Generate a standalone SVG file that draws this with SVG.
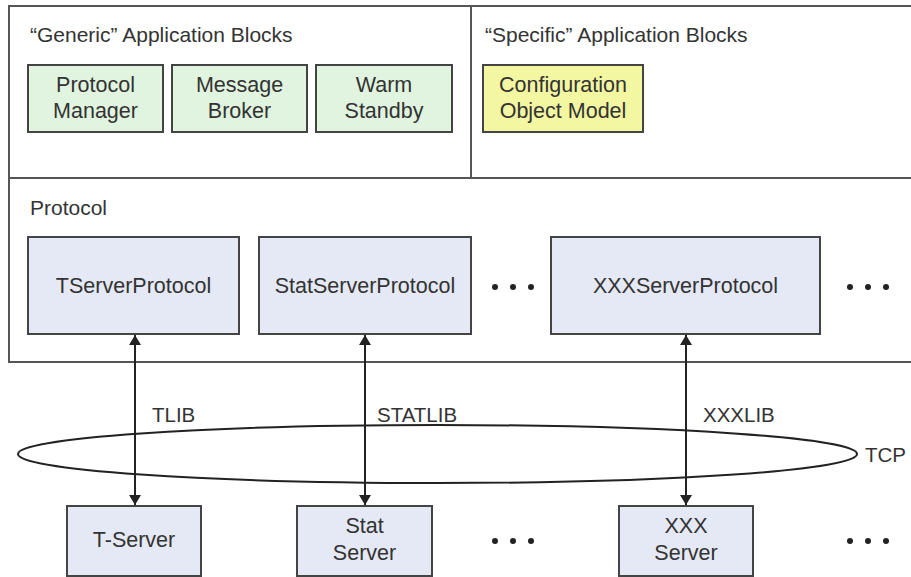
<svg xmlns="http://www.w3.org/2000/svg" width="911" height="577" viewBox="0 0 911 577">
<defs>
<style>
text{font-family:"Liberation Sans",Arial,sans-serif;font-size:21.5px;fill:#333}
.h{font-size:21px}
.lbl{font-size:20.5px}
.c{text-anchor:middle}
.panel{fill:#fff;stroke:#555;stroke-width:2}
.green{fill:#e0f4df;stroke:#444;stroke-width:2}
.yellow{fill:#f4f7a2;stroke:#444;stroke-width:2}
.blue{fill:#e4e9f5;stroke:#444;stroke-width:2}
.conn{stroke:#222;stroke-width:2;fill:none}
.dot{fill:#222}
</style>
<marker id="ah" viewBox="0 0 10 12" refX="10" refY="6" markerWidth="6" markerHeight="6" orient="auto-start-reverse" markerUnits="strokeWidth">
<path d="M0,0 L10,6 L0,12 z" fill="#222"/>
</marker>
</defs>
<rect width="911" height="577" fill="#fff"/>
<g id="generic-panel">
<rect class="panel" x="9" y="6" width="462" height="172"/>
<text class="h" x="30" y="42">“Generic” Application Blocks</text>
</g>
<g id="specific-panel">
<rect class="panel" x="471" y="6" width="450" height="172"/>
<text class="h" x="485" y="42">“Specific” Application Blocks</text>
</g>
<g id="protocol-panel">
<rect class="panel" x="9" y="178" width="912" height="184"/>
<text class="h" x="30" y="215">Protocol</text>
</g>
<g id="protocol-manager">
<rect class="green" x="28" y="65" width="135" height="67"/>
<text class="c" x="95.5" y="92">Protocol</text>
<text class="c" x="95.5" y="118">Manager</text>
</g>
<g id="message-broker">
<rect class="green" x="172" y="65" width="135" height="67"/>
<text class="c" x="239.5" y="92">Message</text>
<text class="c" x="239.5" y="118">Broker</text>
</g>
<g id="warm-standby">
<rect class="green" x="316" y="65" width="136" height="67"/>
<text class="c" x="384" y="92">Warm</text>
<text class="c" x="384" y="118">Standby</text>
</g>
<g id="config-object-model">
<rect class="yellow" x="483" y="65" width="160" height="67"/>
<text class="c" x="563" y="92">Configuration</text>
<text class="c" x="563" y="118">Object Model</text>
</g>
<g id="tserver-protocol">
<rect class="blue" x="28" y="237" width="211" height="97"/>
<text class="c" x="133.5" y="293">TServerProtocol</text>
</g>
<g id="statserver-protocol">
<rect class="blue" x="259" y="237" width="212" height="97"/>
<text class="c" x="365" y="293">StatServerProtocol</text>
</g>
<g id="xxxserver-protocol">
<rect class="blue" x="551" y="237" width="269" height="97"/>
<text class="c" x="685.5" y="293">XXXServerProtocol</text>
</g>
<g id="dots-protocol-1"><circle class="dot" cx="495" cy="287" r="3"/><circle class="dot" cx="513" cy="287" r="3"/><circle class="dot" cx="531" cy="287" r="3"/></g>
<g id="dots-protocol-2"><circle class="dot" cx="850" cy="287" r="3"/><circle class="dot" cx="868" cy="287" r="3"/><circle class="dot" cx="886" cy="287" r="3"/></g>
<g id="tcp">
<ellipse cx="437.5" cy="454" rx="419.5" ry="29" fill="none" stroke="#222" stroke-width="2"/>
<text class="lbl" x="865" y="462">TCP</text>
</g>
<g id="connectors">
<line class="conn" x1="135" y1="335" x2="135" y2="505" marker-start="url(#ah)" marker-end="url(#ah)"/>
<line class="conn" x1="365" y1="335" x2="365" y2="505" marker-start="url(#ah)" marker-end="url(#ah)"/>
<line class="conn" x1="686" y1="335" x2="686" y2="505" marker-start="url(#ah)" marker-end="url(#ah)"/>
<text class="lbl" x="152" y="422">TLIB</text>
<text class="lbl" x="377" y="422">STATLIB</text>
<text class="lbl" x="703" y="422">XXXLIB</text>
</g>
<g id="t-server">
<rect class="blue" x="67" y="506" width="134" height="70"/>
<text class="c" x="134" y="547">T-Server</text>
</g>
<g id="stat-server">
<rect class="blue" x="297" y="506" width="135" height="70"/>
<text class="c" x="364.5" y="533">Stat</text>
<text class="c" x="364.5" y="560">Server</text>
</g>
<g id="xxx-server">
<rect class="blue" x="619" y="506" width="134" height="70"/>
<text class="c" x="686" y="533">XXX</text>
<text class="c" x="686" y="560">Server</text>
</g>
<g id="dots-server-1"><circle class="dot" cx="495" cy="541" r="3"/><circle class="dot" cx="513" cy="541" r="3"/><circle class="dot" cx="531" cy="541" r="3"/></g>
<g id="dots-server-2"><circle class="dot" cx="850" cy="541" r="3"/><circle class="dot" cx="868" cy="541" r="3"/><circle class="dot" cx="886" cy="541" r="3"/></g>
</svg>
